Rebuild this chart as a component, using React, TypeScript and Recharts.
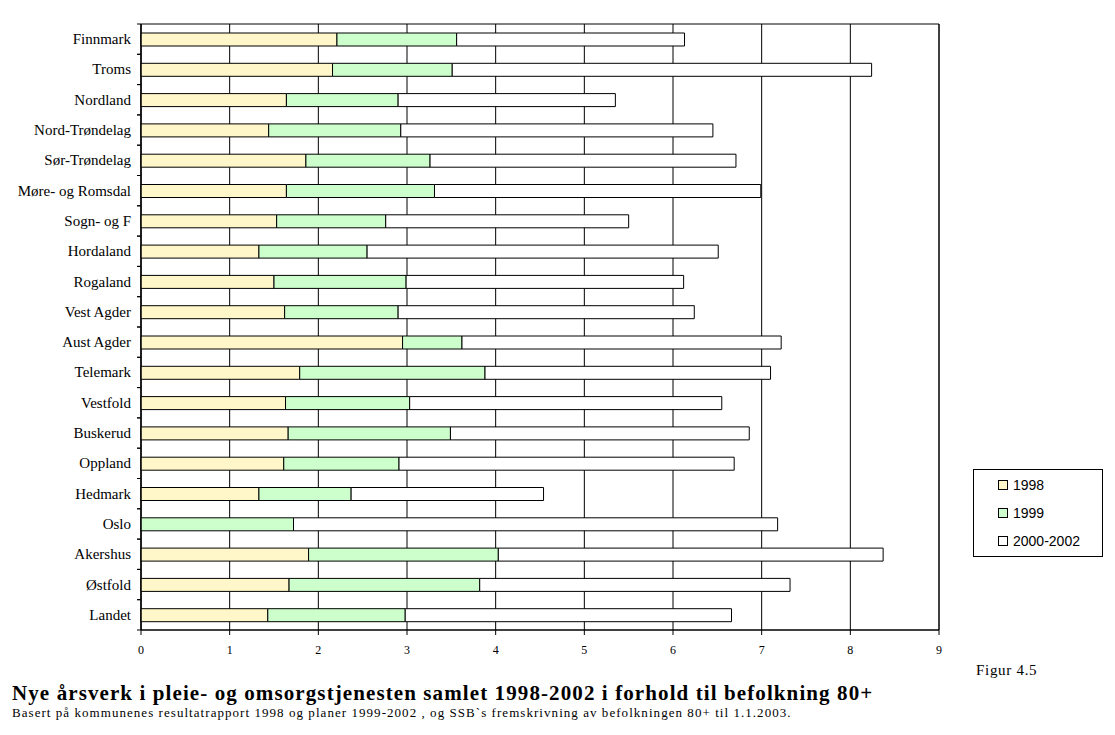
import { BarChart, Bar, XAxis, YAxis, CartesianGrid, ReferenceArea } from 'recharts';

// Fylker, top to bottom
const regions = [
  'Finnmark', 'Troms', 'Nordland', 'Nord-Trøndelag', 'Sør-Trøndelag', 'Møre- og Romsdal',
  'Sogn- og F', 'Hordaland', 'Rogaland', 'Vest Agder', 'Aust Agder', 'Telemark', 'Vestfold',
  'Buskerud', 'Oppland', 'Hedmark', 'Oslo', 'Akershus', 'Østfold', 'Landet',
];

// new man-years per 80+ inhabitants, one stacked segment per period
const y1998 = [2.21, 2.16, 1.64, 1.44, 1.86, 1.64, 1.53, 1.33, 1.5, 1.62, 2.95, 1.79, 1.63, 1.66, 1.61, 1.33, 0, 1.89, 1.67, 1.43];
const y1999 = [1.35, 1.35, 1.26, 1.49, 1.4, 1.67, 1.23, 1.22, 1.49, 1.28, 0.67, 2.09, 1.4, 1.83, 1.3, 1.04, 1.72, 2.14, 2.15, 1.55];
const y2000to2002 = [2.57, 4.73, 2.45, 3.52, 3.45, 3.68, 2.74, 3.96, 3.13, 3.34, 3.6, 3.22, 3.52, 3.37, 3.78, 2.17, 5.46, 4.34, 3.5, 3.68];

const xTicks = [0, 1, 2, 3, 4, 5, 6, 7, 8, 9];

const series = [
  { key: 'y1998', name: '1998', color: '#FFF7C9' },
  { key: 'y1999', name: '1999', color: '#CCFFCC' },
  { key: 'y2000', name: '2000-2002', color: '#FFFFFF' },
];

const data = regions.map((name, i) => ({
  name,
  y1998: y1998[i],
  y1999: y1999[i],
  y2000: y2000to2002[i],
}));

const W = 1115;
const H = 735;
const MARGIN = { top: 24, right: 176, bottom: 75, left: 0 };
const X_AXIS_H = 30;
const PLOT_H = H - MARGIN.top - MARGIN.bottom - X_AXIS_H;
const BAND = PLOT_H / regions.length;
const SERIF = '"Liberation Serif", "Times New Roman", serif';
const SANS = '"Liberation Sans", Arial, sans-serif';

// category label plus the small tick marks that sit between categories
function RegionTick({ x, y, payload }: any) {
  const axisX = x + 11;
  return (
    <g>
      <text
        x={x + 1}
        y={y}
        dy={5}
        textAnchor="end"
        fontSize={15}
        fontFamily={SERIF}
        fill="#000"
      >
        {payload.value}
      </text>
      <line x1={axisX - 4} x2={axisX} y1={y - BAND / 2} y2={y - BAND / 2} stroke="#000" />
      <line x1={axisX - 4} x2={axisX} y1={y + BAND / 2} y2={y + BAND / 2} stroke="#000" />
    </g>
  );
}

function LegendBox() {
  return (
    <div
      style={{
        position: 'absolute',
        left: 973,
        top: 469,
        border: '1px solid #000',
        width: 130,
        height: 88,
        boxSizing: 'border-box',
        background: '#fff',
        paddingTop: 1,
      }}
    >
      {series.map((s) => (
        <div key={s.key} style={{ display: 'flex', alignItems: 'center', height: 28, paddingLeft: 24 }}>
          <span
            style={{
              width: 8,
              height: 8,
              border: '1px solid #000',
              background: s.color,
              marginRight: 5,
              flex: 'none',
            }}
          />
          <span style={{ fontFamily: SANS, fontSize: 14, color: '#000', whiteSpace: 'nowrap' }}>{s.name}</span>
        </div>
      ))}
    </div>
  );
}

export default function App() {
  return (
    <div style={{ position: 'absolute', left: 0, top: 0, width: W, height: H, background: '#fff' }}>
      <BarChart
        width={W}
        height={H}
        data={data}
        layout="vertical"
        margin={MARGIN}
        barSize={13}
      >
        <CartesianGrid horizontal={false} stroke="#000" strokeDasharray="" />
        <XAxis
          type="number"
          domain={[0, 9]}
          ticks={xTicks}
          interval={0}
          height={X_AXIS_H}
          axisLine={{ stroke: '#000' }}
          tickLine={{ stroke: '#000' }}
          tickSize={5}
          tickMargin={10}
          tick={{ fontSize: 12, fontFamily: SERIF, fill: '#000' }}
        />
        <YAxis
          type="category"
          dataKey="name"
          width={141}
          axisLine={{ stroke: '#000' }}
          tickLine={false}
          tickSize={4}
          tickMargin={7}
          interval={0}
          tick={<RegionTick />}
        />
        <ReferenceArea x1={0} x2={9} fill="none" fillOpacity={0} stroke="#000" ifOverflow="visible" />
        {series.map((s) => (
          <Bar
            key={s.key}
            dataKey={s.key}
            name={s.name}
            stackId="total"
            fill={s.color}
            stroke="#000"
            strokeWidth={1}
            isAnimationActive={false}
          />
        ))}
      </BarChart>
      <LegendBox />
      <div
        style={{
          position: 'absolute',
          left: 976,
          top: 663,
          fontFamily: SERIF,
          fontSize: 15,
          letterSpacing: 0.7,
          lineHeight: '15px',
          whiteSpace: 'nowrap',
        }}
      >
        Figur 4.5
      </div>
      <div
        style={{
          position: 'absolute',
          left: 12,
          top: 683,
          fontFamily: SERIF,
          fontSize: 21,
          fontWeight: 'bold',
          letterSpacing: 1.1,
          lineHeight: '21px',
          whiteSpace: 'nowrap',
        }}
      >
        Nye årsverk i pleie- og omsorgstjenesten samlet 1998-2002 i forhold til befolkning 80+
      </div>
      <div
        style={{
          position: 'absolute',
          left: 12,
          top: 706,
          fontFamily: SERIF,
          fontSize: 13,
          letterSpacing: 1.05,
          lineHeight: '13px',
          whiteSpace: 'nowrap',
        }}
      >
        Basert på kommunenes resultatrapport 1998 og planer 1999-2002 , og SSB`s fremskrivning av befolkningen 80+ til 1.1.2003.
      </div>
    </div>
  );
}
